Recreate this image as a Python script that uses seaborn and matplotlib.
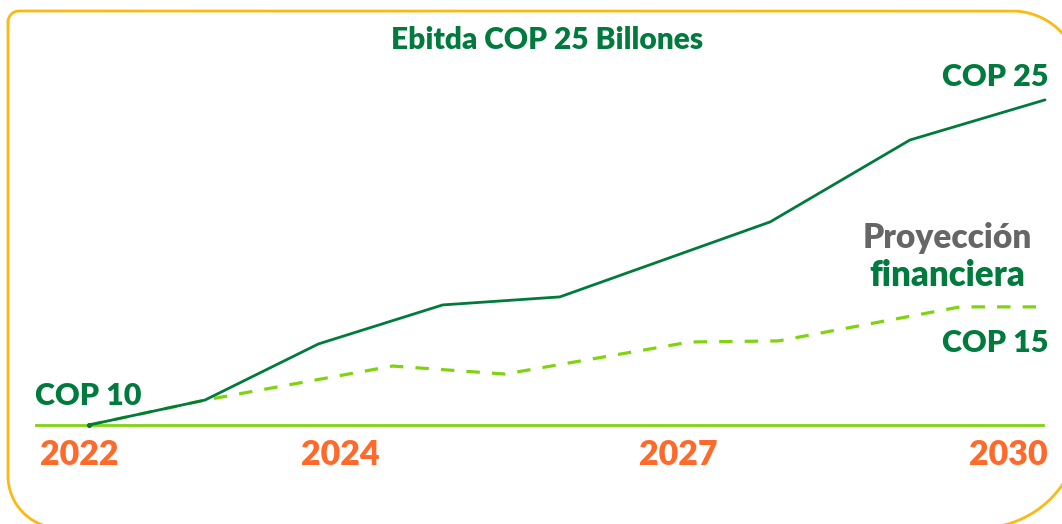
import matplotlib
matplotlib.use("Agg")
import matplotlib.pyplot as plt
import numpy as np
import seaborn as sns
import pandas as pd

# ---- data ----
ebitda_years = [2022.0, 2022.97, 2023.92, 2024.96, 2025.94, 2027.70, 2028.87, 2030.0]
ebitda_values = [10.0, 11.15, 13.74, 15.54, 15.91, 19.37, 23.15, 25.0]
proy_years = [2022.0, 2022.97, 2024.54, 2025.48, 2027.03, 2027.77, 2029.29, 2030.0]
proy_values = [10.0, 11.15, 12.72, 12.35, 13.83, 13.88, 15.45, 15.45]
tick_labels = ["2022", "2024", "2027", "2030"]
tick_pos = [2021.92, 2024.10, 2026.93, 2029.69]
title_text = "Ebitda COP 25 Billones"
label_start = "COP 10"
label_end_ebitda = "COP 25"
label_end_proy = "COP 15"
series_names = ["Proyección financiera", "Ebitda"]

DARK_GREEN = "#007A3D"
LIGHT_GREEN = "#7FD30F"
ORANGE = "#FF6A2B"
GRAY = "#666666"
YELLOW = "#FDB913"

df = pd.concat([
    pd.DataFrame({"year": proy_years, "value": proy_values, "serie": series_names[0]}),
    pd.DataFrame({"year": ebitda_years, "value": ebitda_values, "serie": series_names[1]}),
], ignore_index=True)

sns.set_theme(style="white")
plt.rcParams["font.family"] = ["Lato", "DejaVu Sans"]

W, H = 1062, 524
fig = plt.figure(figsize=(W / 100, H / 100), dpi=100)

def fx(px):
    return px / W

def fy(py):
    return 1 - py / H

# axes: left edge 36px, right 1043px, bottom at baseline 425px, top at 11px
ax = fig.add_axes([fx(36), fy(425), fx(1043) - fx(36), fy(11) - fy(425)])
ax.patch.set_alpha(0)

sns.lineplot(data=df, x="year", y="value", hue="serie", style="serie",
             hue_order=series_names, style_order=series_names,
             palette={series_names[0]: LIGHT_GREEN, series_names[1]: DARK_GREEN},
             dashes={series_names[0]: (4.2, 3.8), series_names[1]: ""},
             sort=False, legend=False, ax=ax, clip_on=False)
for ln, lw in zip(ax.lines, [2.3, 2.0]):
    ln.set_linewidth(lw)
    ln.set_solid_capstyle("round")
    ln.set_zorder(3 if lw < 2.1 else 2)
sns.scatterplot(x=ebitda_years[:1], y=ebitda_values[:1], color=DARK_GREEN, s=14,
                linewidth=0, ax=ax, clip_on=False, zorder=4)

ax.set_xlim(2021.5565, 2029.983)
ax.set_ylim(10, 29.1)
ax.set_xlabel("")
ax.set_ylabel("")
ax.set_yticks([])
ax.set_xticks(tick_pos)
ax.set_xticklabels(tick_labels, color=ORANGE, fontsize=24.5, fontweight="heavy")
ax.tick_params(axis="x", length=0, pad=10)
for s in ["top", "left", "right"]:
    ax.spines[s].set_visible(False)
ax.spines["bottom"].set_color(LIGHT_GREEN)
ax.spines["bottom"].set_linewidth(2.0)

# texts
fig.text(fx(547), fy(49), title_text, color=DARK_GREEN, fontsize=21.5,
         fontweight="heavy", ha="center", va="baseline")
fig.text(fx(1048), fy(86), label_end_ebitda, color=DARK_GREEN, fontsize=22,
         fontweight="heavy", ha="right", va="baseline")
fig.text(fx(35), fy(405), label_start, color=DARK_GREEN, fontsize=22,
         fontweight="heavy", ha="left", va="baseline")
fig.text(fx(1048), fy(352), label_end_proy, color=DARK_GREEN, fontsize=22,
         fontweight="heavy", ha="right", va="baseline")
fig.text(fx(947), fy(248), "Proyección", color=GRAY, fontsize=24,
         fontweight="heavy", ha="center", va="baseline")
fig.text(fx(947), fy(286), "financiera", color=DARK_GREEN, fontsize=25,
         fontweight="heavy", ha="center", va="baseline")

# rounded border (partly outside the canvas), built from sampled arcs
L, T, R, B = 8, 11, 1080, 528
corners = [  # (cx, cy, r, start_angle_deg, end_angle_deg) in pixel space (y down)
    (L + 11, T + 11, 11, 180, 270),
    (R - 68, T + 68, 68, 270, 360),
    (R - 100, B - 100, 100, 0, 90),
    (L + 52, B - 52, 52, 90, 180),
]
pts = []
for cx, cy, r, a0, a1 in corners:
    a = np.radians(np.linspace(a0, a1, 60))
    pts.extend(zip(cx + r * np.cos(a), cy + r * np.sin(a)))
pts.append(pts[0])
bx = [fx(p[0]) for p in pts]
by = [fy(p[1]) for p in pts]
fig.add_artist(plt.Line2D(bx, by, transform=fig.transFigure, color=YELLOW,
                          linewidth=2.0, solid_joinstyle="round"))

fig.savefig("out.png", dpi=100, facecolor="white")
